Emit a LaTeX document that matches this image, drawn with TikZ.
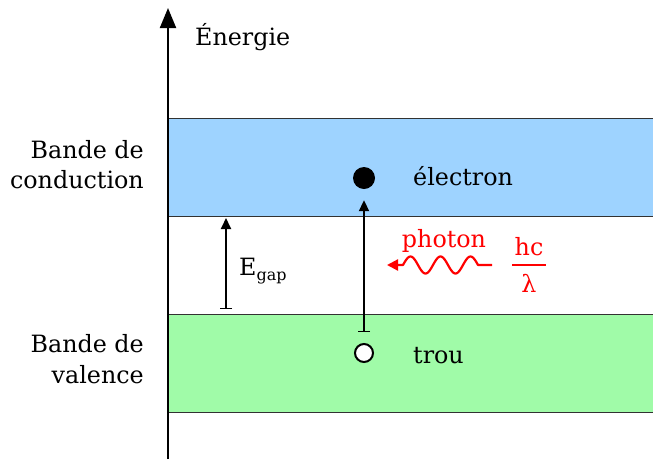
\documentclass[tikz,border=0pt]{standalone}
\usepackage{fontspec}
\setmainfont{DejaVu Serif}
\usetikzlibrary{arrows.meta}
\definecolor{bandblue}{RGB}{158,211,255}
\definecolor{bandgreen}{RGB}{160,251,168}
\definecolor{bordergray}{RGB}{50,50,50}
\definecolor{photonred}{RGB}{255,0,0}
\tikzset{
  lbl/.style={inner sep=0pt, font=\fontsize{23.8}{31}\selectfont},
  band/.style={draw=bordergray, line width=1pt},
  blackarrow/.style={line width=2pt, {Bar[width=12pt,line width=1.5pt]}-{Triangle[length=11pt,width=10pt]}},
}
\begin{document}
\begin{tikzpicture}[x=1pt,y=-1pt]
\useasboundingbox (0,0) rectangle (653,459);
% bands
\path[band, fill=bandblue] (168,118) rectangle (660,216);
\path[band, fill=bandgreen] (168,314) rectangle (660,412);
% energy axis
\coordinate (axbot) at (168,459);
\coordinate (axtop) at (168,8);
\draw[line width=2pt, -{Triangle[length=20pt,width=16pt]}] (axbot) -- (axtop);
\node[lbl, anchor=base west] (energie) at (195,45) {Énergie};
% band labels
\node[lbl, anchor=base east] (bc1) at (144,158) {Bande de};
\node[lbl, anchor=base east] (bc2) at (144,188) {conduction};
\node[lbl, anchor=base east] (bv1) at (144,352) {Bande de};
\node[lbl, anchor=base east] (bv2) at (144,383) {valence};
% gap arrow
\coordinate (egbot) at (226,309);
\coordinate (egtop) at (226,218);
\draw[blackarrow] (egbot) -- (egtop);
\node[lbl, anchor=base west] (egap) at (239,275) {E\raisebox{-5pt}{\fontsize{16}{16}\selectfont gap}};
% electron and hole
\node[circle, fill=black, minimum size=22pt, inner sep=0pt] (electron) at (364,178) {};
\node[circle, draw=black, line width=2pt, fill=white, minimum size=18pt, inner sep=0pt] (hole) at (364,353) {};
\draw[blackarrow, shorten <=11pt, shorten >=11pt] (hole.north) -- (electron.south);
\node[lbl, anchor=base west] (elabel) at (413,185) {électron};
\node[lbl, anchor=base west] (tlabel) at (413,363) {trou};
% photon
\coordinate (phstart) at (492,265);
\coordinate (phtip) at (387,265);
\draw[photonred, line width=2.2pt, line join=round, -{Triangle[length=11pt,width=11pt]}]
  (phstart) -- (478,265)
  -- plot[domain=478:403, samples=90, smooth] (\x, {265-8.5*sin(12*(\x-403))})
  -- (phtip);
\node[lbl, text=photonred, anchor=base] (photon) at (444,247) {photon};
\node[lbl, text=photonred, anchor=base] (hc) at (529,255) {hc};
\node[lbl, text=photonred, anchor=base] (lambda) at (529,292) {λ};
\coordinate (fracl) at (512,265);
\coordinate (fracr) at (546,265);
\draw[photonred, line width=1.5pt] (fracl) -- (fracr);
\end{tikzpicture}
\end{document}
